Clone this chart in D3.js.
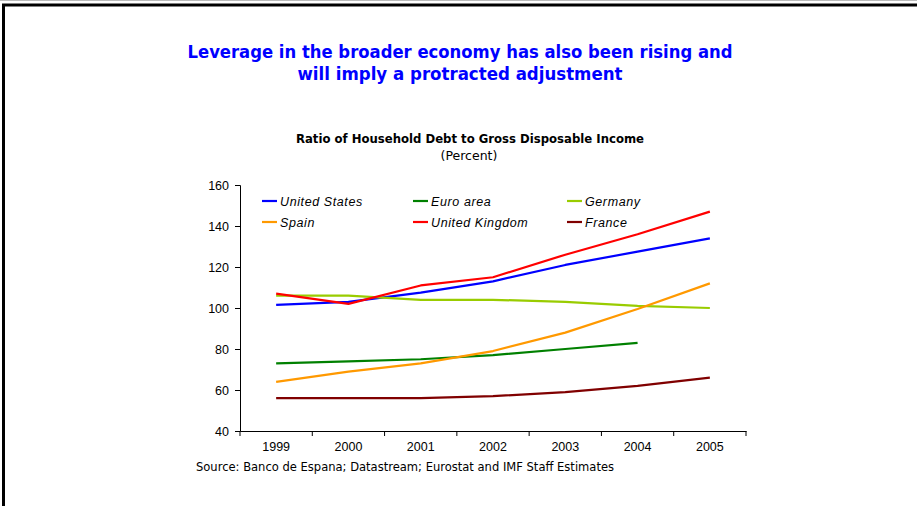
<!DOCTYPE html>
<html><head><meta charset="utf-8">
<script src="https://cdn.jsdelivr.net/npm/d3@7/dist/d3.min.js"></script>
<style>body{margin:0;background:#fff}svg{display:block}</style>
</head><body>
<svg id="c" width="917" height="506"></svg>
<script>
const years = ["1999","2000","2001","2002","2003","2004","2005"];
const yTicks = [40,60,80,100,120,140,160];
const seriesNames = ["United States","Euro area","Germany","Spain","United Kingdom","France"];
const seriesColors = ["#0000FF","#008000","#99CC00","#FF9900","#FF0000","#800000"];
const unitedStates = [101.5,103,107.5,113,121,127.5,134];
const euroArea = [73,74,75,77,80,83,null];
const germany = [106,106,104,104,103,101,100];
const spain = [64,69,73,79,88,99.5,112];
const unitedKingdom = [107,102,111,115,126,136,147];
const france = [56,56,56,57,59,62,66];
const seriesValues = [unitedStates,euroArea,germany,spain,unitedKingdom,france];

const svg = d3.select("#c");
// frame
svg.append("line").attr("x1",0).attr("x2",917).attr("y1",0.5).attr("y2",0.5).attr("stroke","#bbb").attr("stroke-width",1);
svg.append("line").attr("x1",2).attr("x2",917).attr("y1",5).attr("y2",5).attr("stroke","#000").attr("stroke-width",3);
svg.append("line").attr("x1",3.5).attr("x2",3.5).attr("y1",4).attr("y2",506).attr("stroke","#000").attr("stroke-width",3);

const tf = "'DejaVu Sans', Tahoma, sans-serif";
svg.append("text").attr("x",460).attr("y",58).attr("text-anchor","middle").attr("fill","#0000FF")
  .attr("font-family",tf).attr("font-weight","bold").attr("font-size",17)
  .attr("textLength",545).attr("lengthAdjust","spacingAndGlyphs")
  .text("Leverage in the broader economy has also been rising and");
svg.append("text").attr("x",460).attr("y",80).attr("text-anchor","middle").attr("fill","#0000FF")
  .attr("font-family",tf).attr("font-weight","bold").attr("font-size",17)
  .attr("textLength",325).attr("lengthAdjust","spacingAndGlyphs")
  .text("will imply a protracted adjustment");
svg.append("text").attr("x",470).attr("y",143).attr("text-anchor","middle").attr("fill","#000")
  .attr("font-family",tf).attr("font-weight","bold").attr("font-size",12.5)
  .attr("textLength",348).attr("lengthAdjust","spacingAndGlyphs")
  .text("Ratio of Household Debt to Gross Disposable Income");
svg.append("text").attr("x",469).attr("y",160).attr("text-anchor","middle").attr("fill","#000")
  .attr("font-family",tf).attr("font-size",12.5)
  .text("(Percent)");
svg.append("text").attr("x",196).attr("y",471).attr("fill","#000")
  .attr("font-family",tf).attr("font-size",12)
  .attr("textLength",418).attr("lengthAdjust","spacingAndGlyphs")
  .text("Source: Banco de Espana; Datastream; Eurostat and IMF Staff Estimates");

const x = d3.scaleBand().domain(years).range([240,746]);
const y = d3.scaleLinear().domain([40,160]).range([431,185]);
const af = "'Liberation Sans', Arial, sans-serif";

const ya = svg.append("g").attr("transform","translate(240,0)")
  .call(d3.axisLeft(y).tickValues(yTicks).tickSize(5).tickPadding(6));
ya.attr("font-family",af).attr("font-size",12.5);
ya.select(".domain").attr("stroke","#000");
ya.selectAll("text").attr("fill","#000");

const xa = svg.append("g").attr("transform","translate(0,431)")
  .call(d3.axisBottom(x).tickSize(0).tickPadding(11));
xa.attr("font-family",af).attr("font-size",12.5);
xa.select(".domain").attr("stroke","#000");
xa.selectAll("text").attr("fill","#000");
// tick marks at band boundaries
const bounds = years.map(d=>x(d)).concat([x.range()[1]]);
svg.append("g").selectAll("line").data(bounds).join("line")
  .attr("x1",d=>d).attr("x2",d=>d).attr("y1",431).attr("y2",436).attr("stroke","#000");

const line = d3.line()
  .defined(d=>d.v!=null)
  .x(d=>x(d.year)+x.bandwidth()/2).y(d=>y(d.v));
seriesNames.forEach((name,i)=>{
  const data = years.map((yr,j)=>({year:yr,v:seriesValues[i][j]}));
  svg.append("path").datum(data).attr("d",line).attr("fill","none")
    .attr("stroke",seriesColors[i]).attr("stroke-width",2.2).attr("stroke-linejoin","round");
});

// legend
const legX = [262,413,567], legY = [201,222];
seriesNames.forEach((name,i)=>{
  const cx = legX[i%3], cy = legY[Math.floor(i/3)];
  svg.append("line").attr("x1",cx).attr("x2",cx+15).attr("y1",cy).attr("y2",cy)
    .attr("stroke",seriesColors[i]).attr("stroke-width",2.2);
  svg.append("text").attr("x",cx+18).attr("y",cy+4.5).attr("font-family",af)
    .attr("font-style","italic").attr("font-size",12.5).attr("letter-spacing",0.6).attr("fill","#000").text(name);
});
</script>
</body></html>
